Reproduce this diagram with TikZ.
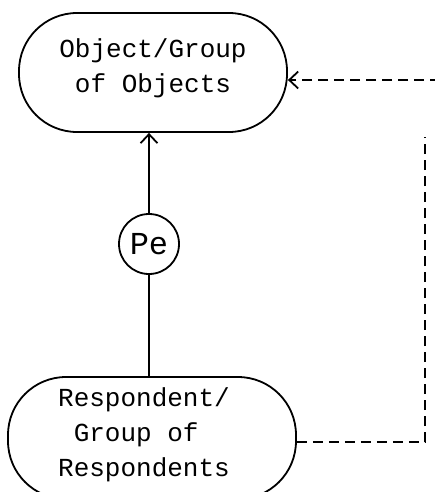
\documentclass[tikz,border=0pt]{standalone}
\usepackage{fontspec}
\setmonofont{Liberation Mono}
\usetikzlibrary{arrows.meta,calc}
\begin{document}
\begin{tikzpicture}[x=1pt,y=-1pt,
  every node/.style={font=\ttfamily\fontsize{26}{35}\selectfont},
  pill/.style={draw,line width=1.8pt,rounded corners=58pt,inner sep=0pt},
  txt/.style={align=left,inner sep=0pt},
  conn/.style={line width=1.8pt},
  dconn/.style={line width=1.8pt,dash pattern=on 10pt off 6pt},
  tip/.style={-{Straight Barb[length=9pt,width=17pt,line width=1.8pt]}}]
\useasboundingbox (0,0) rectangle (435,492);
\clip (0,0) rectangle (435,492);
\node[pill,minimum width=268pt,minimum height=119pt,
  label={[txt,xshift=0pt,yshift=4pt]center:Object/Group\\\ of Objects}] (obj) at (153,72.5) {};
\node[circle,draw,line width=1.8pt,minimum size=60pt,inner sep=0pt,
  font=\ttfamily\fontsize{32}{35}\selectfont] (pe) at (149,244) {Pe};
\node[pill,minimum width=288pt,minimum height=122pt,
  label={[txt,xshift=-8pt,yshift=3pt]center:Respondent/\\\ Group of\\Respondents}] (resp) at (152,438) {};
\coordinate (rtop) at (440,80);
\coordinate (vtop) at (425,137);
\coordinate (corner) at (425,442);
\draw[conn] (resp.north -| pe) -- (pe.south);
\draw[conn,tip] (pe.north) -- (pe |- obj.south);
\draw[dconn,tip] (rtop) -- (rtop -| obj.east);
\draw[dconn] (resp.east |- corner) -- (corner) -- (vtop);
\end{tikzpicture}
\end{document}
